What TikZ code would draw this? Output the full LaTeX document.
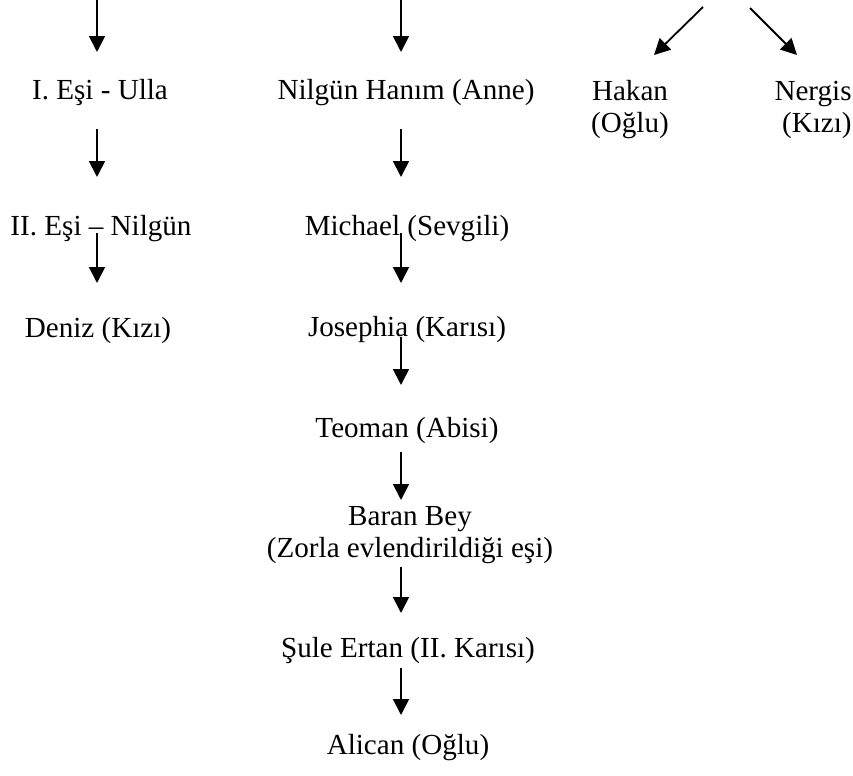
\documentclass[tikz,border=0pt]{standalone}
\usepackage{fontspec}
\setmainfont{Liberation Serif}
\usetikzlibrary{arrows.meta}

\begin{document}
\begin{tikzpicture}[x=0.5pt, y=-0.5pt,
	yazi/.style={inner sep=0pt, align=center, font=\fontsize{14.55}{16}\selectfont},
	kisi/.style={yazi, text height=10pt, text depth=3pt},
	ok/.style={-{Triangle[length=8pt, width=8pt]}, line width=0.9pt}]
	\useasboundingbox (0,0) rectangle (853,776);
	% sol sutun
	\node[kisi] (Ulla) at (100,92) {I. Eşi - Ulla};
	\node[kisi] (Nilgun) at (101,228) {II. Eşi – Nilgün};
	\node[kisi] (Deniz) at (98,330) {Deniz (Kızı)};
	% orta sutun
	\node[kisi] (Anne) at (406,92) {Nilgün Hanım (Anne)};
	\node[kisi] (Michael) at (407,228) {Michael (Sevgili)};
	\node[kisi] (Josephia) at (407,329) {Josephia (Karısı)};
	\node[kisi] (Teoman) at (407,430) {Teoman (Abisi)};
	\node[yazi] (Baran) at (410,535) {Baran Bey\\(Zorla evlendirildiği eşi)};
	\node[kisi] (Sule) at (408,650) {Şule Ertan (II. Karısı)};
	\node[kisi] (Alican) at (408,747) {Alican (Oğlu)};
	% sag sutun
	\node[yazi] (Hakan) at (630,110) {Hakan\\(Oğlu)};
	\node[yazi, align=right, anchor=east] (Nergis) at (852,110) {Nergis\\(Kızı)};
	% oklar
	\draw[ok] ([shift={(-3,-92)}]Ulla.center) -- ([shift={(-3,-40)}]Ulla.center);
	\draw[ok] ([shift={(-3,37)}]Ulla.center) -- ([shift={(-4,-51)}]Nilgun.center);
	\draw[ok] ([shift={(-4,5)}]Nilgun.center) -- ([shift={(-1,-47)}]Deniz.center);
	\draw[ok] ([shift={(-5,-92)}]Anne.center) -- ([shift={(-5,-40)}]Anne.center);
	\draw[ok] ([shift={(-5,37)}]Anne.center) -- ([shift={(-6,-51)}]Michael.center);
	\draw[ok] ([shift={(-6,5)}]Michael.center) -- ([shift={(-6,-46)}]Josephia.center);
	\draw[ok] ([shift={(-6,8)}]Josephia.center) -- ([shift={(-6,-45)}]Teoman.center);
	\draw[ok] ([shift={(-6,22)}]Teoman.center) -- ([shift={(-9,-35)}]Baran.center);
	\draw[ok] ([shift={(-9,32)}]Baran.center) -- ([shift={(-7,-37)}]Sule.center);
	\draw[ok] ([shift={(-7,18)}]Sule.center) -- ([shift={(-7,-32)}]Alican.center);
	\draw[ok] ([shift={(73,-103)}]Hakan.center) -- ([shift={(24,-55)}]Hakan.center);
	\draw[ok] ([shift={(-102,-102)}]Nergis.east) -- ([shift={(-55,-55)}]Nergis.east);
\end{tikzpicture}
\end{document}
